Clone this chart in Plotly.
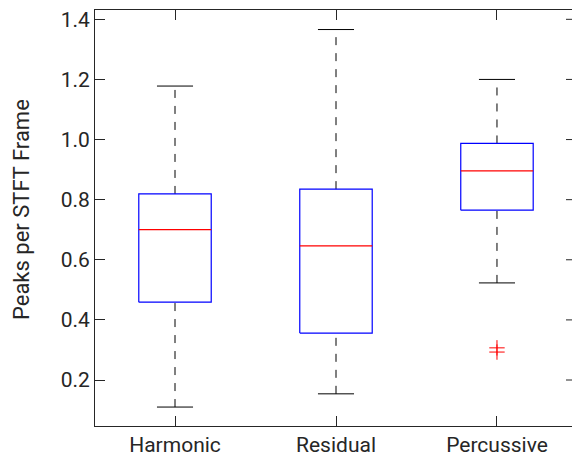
import plotly.graph_objects as go

# Box-plot summary per signal component
categories = ["Harmonic", "Residual", "Percussive"]
lower_adjacent = [0.110, 0.154, 0.523]
q1 = [0.459, 0.356, 0.765]
median = [0.700, 0.646, 0.896]
q3 = [0.819, 0.835, 0.987]
upper_adjacent = [1.178, 1.366, 1.200]
outlier_pos = [3, 3]
outlier_val = [0.307, 0.293]

y_ticks = [0.2, 0.4, 0.6, 0.8, 1.0, 1.2, 1.4]

BOX_HALF = 0.225
CAP_HALF = 0.112
INK = "#262626"
FONT = "Roboto"

fig = go.Figure()

for i, name in enumerate(categories):
    x = i + 1
    # dashed whiskers, drawn bottom-to-top
    fig.add_trace(go.Scatter(
        x=[x, x], y=[lower_adjacent[i], q1[i]], mode="lines",
        line=dict(color="black", width=1, dash="8px,8px"),
        hoverinfo="skip", showlegend=False))
    fig.add_trace(go.Scatter(
        x=[x, x], y=[q3[i], upper_adjacent[i]], mode="lines",
        line=dict(color="black", width=1, dash="8px,8px"),
        hoverinfo="skip", showlegend=False))
    # whisker caps
    for v in (lower_adjacent[i], upper_adjacent[i]):
        fig.add_trace(go.Scatter(
            x=[x - CAP_HALF, x + CAP_HALF], y=[v, v], mode="lines",
            line=dict(color="black", width=1),
            hoverinfo="skip", showlegend=False))
    # box
    fig.add_trace(go.Scatter(
        x=[x - BOX_HALF, x + BOX_HALF, x + BOX_HALF, x - BOX_HALF, x - BOX_HALF],
        y=[q1[i], q1[i], q3[i], q3[i], q1[i]], mode="lines",
        line=dict(color="#0000ff", width=1.2),
        hoverinfo="skip", showlegend=False))
    # median
    fig.add_trace(go.Scatter(
        x=[x - BOX_HALF, x + BOX_HALF], y=[median[i], median[i]], mode="lines",
        line=dict(color="#ff0000", width=1.2),
        hoverinfo="skip", showlegend=False))

# outliers
fig.add_trace(go.Scatter(
    x=outlier_pos, y=outlier_val, mode="markers",
    marker=dict(symbol="cross-thin", size=11, line=dict(color="#ff0000", width=1)),
    hoverinfo="skip", showlegend=False))

# short inside ticks along the right edge
shapes = [
    dict(type="line", xref="x domain", yref="y", x0=1 - 6 / 477, x1=1, y0=t, y1=t,
         line=dict(color=INK, width=1))
    for t in y_ticks
]

fig.update_layout(
    width=572, height=457,
    margin=dict(l=95, r=0, t=10, b=31),
    paper_bgcolor="white", plot_bgcolor="white",
    font=dict(family=FONT, size=21, color=INK),
    shapes=shapes,
    annotations=[dict(
        text="Peaks per STFT Frame", textangle=-90,
        xref="paper", yref="paper", x=(22 - 95) / 477, y=(426 - 210) / 416,
        xanchor="center", yanchor="middle", showarrow=False,
        font=dict(family=FONT, size=22, color=INK))],
    xaxis=dict(
        range=[0.503, 3.466],
        tickmode="array", tickvals=[1, 2, 3], ticktext=categories,
        ticks="inside", ticklen=10, tickcolor=INK, tickwidth=1,
        showline=True, linecolor=INK, linewidth=1, mirror="ticks",
        showgrid=False, zeroline=False,
        tickfont=dict(family=FONT, size=21, color=INK),
    ),
    yaxis=dict(
        range=[0.047, 1.431],
        tickmode="array", tickvals=y_ticks,
        ticktext=[f"{t:.1f}" for t in y_ticks],
        ticks="inside", ticklen=10, tickcolor=INK, tickwidth=1,
        showline=True, linecolor=INK, linewidth=1, mirror=False,
        showgrid=False, zeroline=False,
        tickfont=dict(family=FONT, size=21, color=INK),
    ),
)

fig.write_html("out.html")
